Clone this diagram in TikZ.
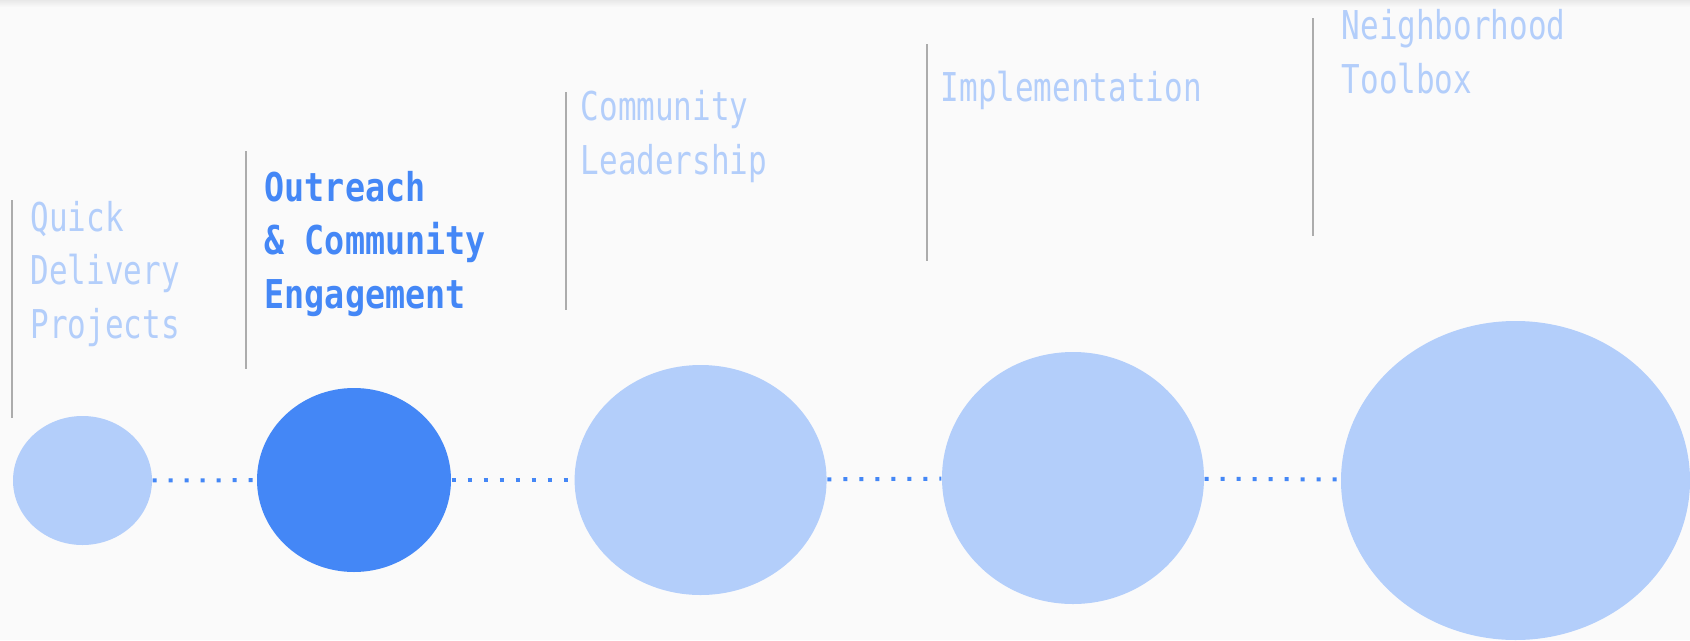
\documentclass[tikz,border=0pt]{standalone}
\usepackage{fontspec}
\usepackage{xcolor}
\usetikzlibrary{shapes.geometric}

\newfontfamily\stagefont[FakeStretch=0.78]{DejaVu Sans Mono}
\newfontfamily\stageboldfont[FakeStretch=0.84]{DejaVu Sans Mono}

\definecolor{pagebg}{HTML}{FAFAFA}
\definecolor{stagelight}{HTML}{B3CEFA}
\definecolor{stagedark}{HTML}{4487F6}
\definecolor{rulegray}{HTML}{ACACAC}

\tikzset{
  stage/.style={ellipse, fill=stagelight, inner sep=0pt},
  stagelabel/.style={anchor=base west, align=left, inner sep=0pt, text=stagelight,
    font=\stagefont\fontsize{11.3pt}{15.2pt}\selectfont},
  marker/.style={draw=rulegray, line width=0.2mm},
  link/.style={draw=stagedark, line width=0.4mm, dash pattern=on 0.4mm off 1.2mm}
}

\begin{document}
\begin{tikzpicture}[x=0.1mm, y=-0.1mm]

    \fill[pagebg] (0,0) rectangle (1690,640);
    \useasboundingbox (0,0) rectangle (1690,640);
    \shade[top color=black!9, bottom color=pagebg] (0,0) rectangle (1690,7);

    % stages
    \node[stage, minimum width=13.9mm, minimum height=12.9mm] (quick) at (82.5, 480.5) {};
    \node[stage, fill=stagedark, minimum width=19.4mm, minimum height=18.4mm] (outreach) at (354, 480) {};
    \node[stage, minimum width=25.2mm, minimum height=23.0mm] (leader) at (700.6, 480) {};
    \node[stage, minimum width=26.2mm, minimum height=25.2mm] (implement) at (1073, 478) {};
    \node[stage, minimum width=34.9mm, minimum height=31.9mm] (toolbox) at (1515.5, 480.5) {};

    \draw[link] (quick) -- (outreach);
    \draw[link] (outreach) -- (leader);
    \draw[link] (leader) -- (implement);
    \draw[link] (implement) -- (toolbox);

    % markers
    \draw[marker] (12, 200) -- (12, 418);
    \draw[marker] (246, 151) -- (246, 369);
    \draw[marker] (566, 92) -- (566, 310);
    \draw[marker] (927, 44) -- (927, 261);
    \draw[marker] (1313, 18) -- (1313, 236);

    % labels (placed at the baseline of their last line)
    \node[stagelabel] (quicktext) at (30, 338) {Quick\\Delivery\\Projects};
    \node[stagelabel, text=stagedark, font=\stageboldfont\bfseries\fontsize{11.3pt}{15.2pt}\selectfont] (outreachtext) at (264, 308) {Outreach\\\& Community\\Engagement};
    \node[stagelabel] (leadertext) at (580, 174) {Community\\Leadership};
    \node[stagelabel] (implementtext) at (940, 101) {Implementation};
    \node[stagelabel] (toolboxtext) at (1341, 93) {Neighborhood\\Toolbox};

  \end{tikzpicture}
\end{document}
